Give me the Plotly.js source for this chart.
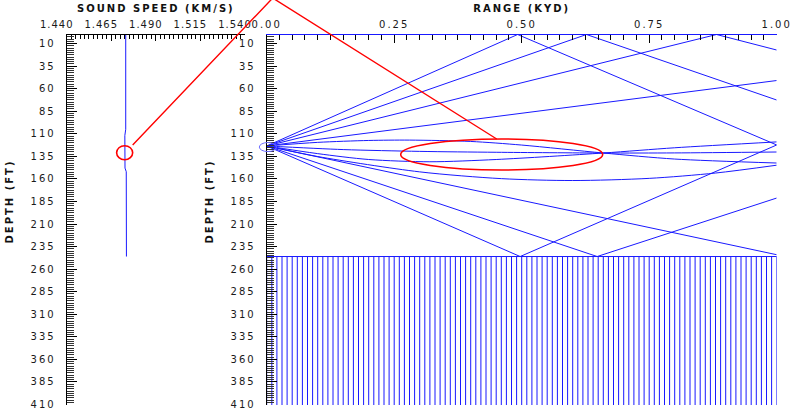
<!DOCTYPE html>
<html><head><meta charset="utf-8">
<script src="https://cdn.plot.ly/plotly-3.0.1.min.js"></script>
<style>
html,body{margin:0;padding:0;background:#fff;}
#chart text{letter-spacing:2px;}
#chart .subplot.xy .xtick text{letter-spacing:1px;}
</style></head><body>
<div id="chart" style="width:793px;height:409px;"></div>
<script>
// ---------- data ----------
const speedTicks = [1.440, 1.465, 1.490, 1.515, 1.540];
const speedTickText = ['1.440', '1.465', '1.490', '1.515', '1.540'];
const rangeTicks = [0, 0.25, 0.5, 0.75, 1.0];
const rangeTickText = ['0.00', '0.25', '0.50', '0.75', '1.00'];
const depthTicks = [10, 35, 60, 85, 110, 135, 160, 185, 210, 235, 260, 285, 310, 335, 360, 385, 410];
const depthTickText = depthTicks.map(String);

// sound speed profile (km/s vs ft)
const profileSpeed = [1.4731, 1.4731, 1.4726, 1.4725, 1.4727, 1.4734, 1.4735];
const profileDepth = [0, 105, 112, 135, 148, 152, 246];

const bottomDepth = 246;          // sea floor (ft)
const bottomHatchStep = 0.01;     // kyd between hatch lines

// rays: range (kyd) and depth (ft) of each path
const rayRanges = [
  [0, 0.492, 1.0],
  [0, 0.627, 1.0],
  [0, 0.882, 1.0],
  [0, 1.0],
  [0, 0.1, 0.2, 0.28, 0.4, 0.5, 0.66, 0.8, 1.0],
  [0, 0.15, 0.3, 0.45, 0.66, 0.8, 1.0],
  [0, 0.1, 0.2, 0.32, 0.45, 0.66, 0.8, 1.0],
  [0, 0.1, 0.3, 0.46, 0.6, 0.75, 0.88, 1.0],
  [0, 1.0],
  [0, 0.648, 1.0],
  [0, 0.497, 1.0]
];
const rayDepths = [
  [123.5, 0, 122.4],
  [123.5, 0, 72.6],
  [123.5, 0, 17.2],
  [123.5, 51],
  [123.5, 119.5, 117.4, 117, 118.5, 122.5, 131.3, 138, 142.4],
  [123.5, 127.5, 129.5, 130.5, 131.3, 131.2, 130.2],
  [123.5, 132, 138.5, 141, 138.5, 131.3, 125.5, 119],
  [123.5, 135.2, 152.2, 159.7, 161.8, 159.4, 153.5, 144.8],
  [123.5, 244],
  [123.5, 246, 181.2],
  [123.5, 246, 122.4]
];
const rayCurved = [false, false, false, false, true, true, true, true, false, false, false];

// highlight marks
const circleSpeed = [1.4680, 1.4770];   // red circle on profile
const circleDepth = [123.2, 138.8];
const ellipseRange = [0.2627, 0.6588]; // red ellipse on rays
const ellipseDepth = [115.7, 150.1];
const sourceRange = [-0.0145, 0.019];   // blue loop at source
const sourceDepth = [119.7, 129.7];
const calloutStart = [1.4770, 122.4];   // on profile panel
const calloutApex = [0.0118, -40.4];    // in ray panel units
const calloutEnd = [0.451, 115.8];      // in ray panel units
const depthTitleAt = 185;               // depth (ft) where the DEPTH titles are centred

// ---------- layout geometry ----------
const W = 793, H = 409;
const xDomL = [66.7 / W, 245 / W];
const xDomR = [266.7 / W, 776.7 / W];
const yDom = [1 - 405 / H, 1 - 34.5 / H];
const speedRange = [1.44, 1.54];
const rangeRange = [0, 1];
const depthRange = [410.5, 0];
const BLUE = 'rgb(25,25,255)';
const RED = 'rgb(255,0,0)';
const FONT = 'DejaVu Sans, sans-serif';

function toPaper(v, r, d) { return d[0] + (v - r[0]) / (r[1] - r[0]) * (d[1] - d[0]); }

const traces = [];
traces.push({x: profileSpeed, y: profileDepth, xaxis: 'x', yaxis: 'y', mode: 'lines',
  line: {color: BLUE, width: 1}, hoverinfo: 'skip'});
rayRanges.forEach((rr, i) => {
  traces.push({x: rr, y: rayDepths[i], xaxis: 'x2', yaxis: 'y2', mode: 'lines',
    line: {color: BLUE, width: 1, shape: rayCurved[i] ? 'spline' : 'linear', smoothing: 0.8},
    hoverinfo: 'skip'});
});
// sea floor and hatch
const hx = [rangeRange[0], rangeRange[1], null], hy = [bottomDepth, bottomDepth, null];
const nH = Math.round((rangeRange[1] - rangeRange[0]) / bottomHatchStep);
for (let k = 0; k <= nH; k++) {
  const r = rangeRange[0] + k * bottomHatchStep;
  hx.push(r, r, null); hy.push(bottomDepth, depthRange[0], null);
}
traces.push({x: hx, y: hy, xaxis: 'x2', yaxis: 'y2', mode: 'lines',
  line: {color: BLUE, width: 1}, hoverinfo: 'skip', connectgaps: false});

const tickFont = {family: FONT, size: 10, color: '#1a1a1a'};
const titleFont = {family: FONT, size: 10, color: '#111', weight: 'bold'};
const yAxisBase = {
  domain: yDom, range: depthRange, showgrid: false, zeroline: false, showline: true,
  linecolor: '#000', linewidth: 1, ticks: 'inside', ticklen: 10, tickcolor: '#000',
  tickmode: 'array', tickvals: depthTicks, ticktext: depthTickText, tickfont: tickFont,
  ticklabelstandoff: 8, ticklabeloverflow: 'allow', automargin: false, fixedrange: true,
  minor: {tickmode: 'linear', tick0: 0, dtick: 2.5, ticks: 'inside', ticklen: 7, tickcolor: '#333', tickwidth: 1, showgrid: false}
};
const layout = {
  width: W, height: H, margin: {l: 0, r: 0, t: 0, b: 0}, showlegend: false,
  paper_bgcolor: '#fff', plot_bgcolor: '#fff', font: {family: FONT, size: 10, color: '#111'},
  xaxis: {domain: xDomL, range: speedRange, anchor: 'y', side: 'top', showgrid: false, zeroline: false,
    showline: true, linecolor: '#000', linewidth: 1, ticks: 'inside', ticklen: 6, tickcolor: '#000',
    tickmode: 'array', tickvals: speedTicks, ticktext: speedTickText, tickfont: tickFont,
    ticklabelshift: -10, ticklabelstandoff: 2, ticklabeloverflow: 'allow', automargin: false, fixedrange: true,
    minor: {tickmode: 'linear', tick0: 1.44, dtick: 0.0025, ticks: 'inside', ticklen: 4, tickcolor: '#000', showgrid: false},
    title: {text: 'SOUND SPEED (KM/S)', font: titleFont, standoff: 4}},
  yaxis: Object.assign({}, yAxisBase, {anchor: 'x'}),
  xaxis2: {domain: xDomR, range: rangeRange, anchor: 'y2', side: 'top', showgrid: false, zeroline: false,
    showline: true, linecolor: BLUE, linewidth: 1, ticks: 'inside', ticklen: 8, tickcolor: '#000',
    tickmode: 'array', tickvals: rangeTicks, ticktext: rangeTickText, tickfont: tickFont,
    ticklabelstandoff: 2, ticklabeloverflow: 'allow', automargin: false, fixedrange: true,
    minor: {tickmode: 'linear', tick0: 0, dtick: 0.025, ticks: 'inside', ticklen: 5, tickcolor: '#000', showgrid: false},
    title: {text: 'RANGE (KYD)', font: titleFont, standoff: 4}},
  yaxis2: Object.assign({}, yAxisBase, {anchor: 'x2'}),
  annotations: [
    {text: 'DEPTH (FT)', textangle: -90, xref: 'paper', yref: 'paper', x: 9 / W, y: toPaper(depthTitleAt, depthRange, yDom),
      xanchor: 'center', yanchor: 'middle', showarrow: false, font: titleFont},
    {text: 'DEPTH (FT)', textangle: -90, xref: 'paper', yref: 'paper', x: 209 / W, y: toPaper(depthTitleAt, depthRange, yDom),
      xanchor: 'center', yanchor: 'middle', showarrow: false, font: titleFont}
  ],
  shapes: [
    {type: 'circle', xref: 'x', yref: 'y', x0: circleSpeed[0], x1: circleSpeed[1], y0: circleDepth[0], y1: circleDepth[1],
      line: {color: RED, width: 1.6}},
    {type: 'circle', xref: 'x2', yref: 'y2', x0: ellipseRange[0], x1: ellipseRange[1], y0: ellipseDepth[0], y1: ellipseDepth[1],
      line: {color: RED, width: 1.6}},
    {type: 'circle', xref: 'paper', yref: 'paper',
      x0: toPaper(sourceRange[0], rangeRange, xDomR), x1: toPaper(sourceRange[1], rangeRange, xDomR),
      y0: toPaper(sourceDepth[0], depthRange, yDom), y1: toPaper(sourceDepth[1], depthRange, yDom),
      line: {color: 'rgb(110,110,255)', width: 1}},
    {type: 'path', xref: 'paper', yref: 'paper',
      path: 'M ' + toPaper(calloutStart[0], speedRange, xDomL) + ' ' + toPaper(calloutStart[1], depthRange, yDom) +
            ' L ' + toPaper(calloutApex[0], rangeRange, xDomR) + ' ' + toPaper(calloutApex[1], depthRange, yDom) +
            ' L ' + toPaper(calloutEnd[0], rangeRange, xDomR) + ' ' + toPaper(calloutEnd[1], depthRange, yDom),
      line: {color: RED, width: 1.4}}
  ]
};
Plotly.newPlot('chart', traces, layout, {staticPlot: true, displayModeBar: false});
</script>
</body></html>
